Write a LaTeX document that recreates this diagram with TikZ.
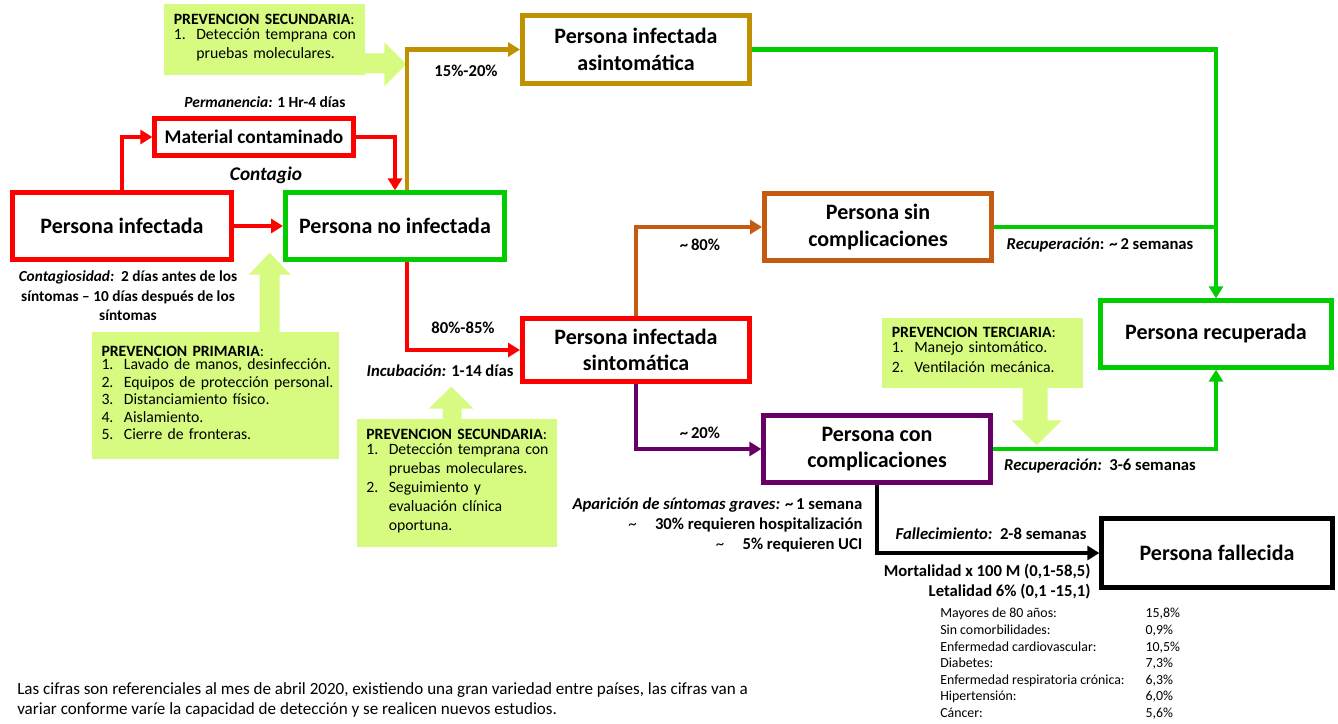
\documentclass[tikz,border=0pt]{standalone}
\usepackage{fontspec}
\setmainfont{Carlito}
\usetikzlibrary{arrows.meta,shadows}

\definecolor{cred}{RGB}{255,0,0}
\definecolor{cgreen}{RGB}{0,204,0}
\definecolor{cgold}{RGB}{191,144,0}
\definecolor{corange}{RGB}{197,90,17}
\definecolor{cpurple}{RGB}{102,0,102}
\definecolor{cprev}{RGB}{214,251,128}

\newcommand{\encab}[1]{\mbox{\textbf{#1}:}}

\tikzset{
  estado/.style={draw, line width=3.5pt, fill=white, align=center, inner sep=2pt,
    font=\fontsize{16.5}{20}\selectfont\bfseries,
    drop shadow={shadow xshift=2pt, shadow yshift=-2pt, opacity=0.3}},
  flecha/.style={line width=3.5pt, -{Triangle[length=9pt,width=10.5pt]}},
  linea/.style={line width=3.5pt},
  prev/.style={fill=cprev, align=left, inner xsep=7pt, inner ysep=0pt},
  etiq/.style={inner sep=1pt, font=\fontsize{12.5}{15}\selectfont\bfseries},
}

\begin{document}
\begin{tikzpicture}[x=0.75pt, y=-0.75pt]
	\useasboundingbox (0,0) rectangle (1338,724);

	% prevencion
	\node[prev, minimum width=150.75pt, minimum height=53.25pt, text width=136pt,
		font=\fontsize{11.8}{14.5}\selectfont] (prevsecA) at (264.5,39.5)
		{\encab{PREVENCION SECUNDARIA}\\
		\begin{tabular}{@{}l@{\ \ }l@{}}
			1. & Detección temprana con\\
			   & pruebas moleculares.
		\end{tabular}};
	\fill[cprev] (prevsecA.south east) ++(-1,-2) -- ++(20,0) -- ++(0,13) -- ++(22,-22)
		-- ++(-22,-22) -- ++(0,11) -- ++(-20,0) -- cycle;

	\node[prev, minimum width=185.25pt, minimum height=95.25pt, text width=171pt,
		font=\fontsize{11.8}{13.1}\selectfont] (prevprim) at (215.5,395.5)
		{\encab{PREVENCION PRIMARIA}\\
		\begin{tabular}{@{}l@{\ \ }l@{}}
			1. & Lavado de manos, desinfección.\\
			2. & Equipos de protección personal.\\
			3. & Distanciamiento físico.\\
			4. & Aislamiento.\\
			5. & Cierre de fronteras.
		\end{tabular}};
	\fill[cprev] (prevprim.north west) ++(168,1) -- ++(0,-58) -- ++(-11,0) -- ++(21,-22)
		-- ++(21,22) -- ++(-11,0) -- ++(0,58) -- cycle;

	\node[prev, minimum width=150pt, minimum height=96pt, text width=136pt,
		font=\fontsize{11.8}{14.3}\selectfont] (prevsecB) at (457,483)
		{\encab{PREVENCION SECUNDARIA}\\
		\begin{tabular}{@{}l@{\ \ }l@{}}
			1. & Detección temprana con\\
			   & pruebas moleculares.\\
			2. & Seguimiento y\\
			   & evaluación clínica\\
			   & oportuna.
		\end{tabular}};
	\fill[cprev] (prevsecB.north west) ++(86,1) -- ++(0,-11) -- ++(-14,0) -- ++(22.5,-22)
		-- ++(22.5,22) -- ++(-12,0) -- ++(0,11) -- cycle;

	\node[prev, minimum width=150.75pt, minimum height=52.5pt, text width=136pt,
		font=\fontsize{11.8}{15}\selectfont] (prevter) at (982.5,353)
		{\encab{PREVENCION TERCIARIA}\\
		\begin{tabular}{@{}l@{\ \ }l@{}}
			1. & Manejo sintomático.\\
			2. & Ventilación mecánica.
		\end{tabular}};
	\fill[cprev] (prevter.south west) ++(141,-1) -- ++(0,33) -- ++(-11,0) -- ++(25,25)
		-- ++(25,-25) -- ++(-14,0) -- ++(0,-33) -- cycle;

	% estados
	\node[estado, draw=cred, minimum width=149pt, minimum height=28pt,
		font=\fontsize{14.5}{17}\selectfont\bfseries] (mat) at (254,137) {Material contaminado};
	\node[estado, draw=cred, minimum width=164.5pt, minimum height=50pt] (inf) at (122,226) {Persona infectada};
	\node[estado, draw=cgreen, minimum width=164.5pt, minimum height=50pt] (noinf) at (395,226) {Persona no infectada};
	\node[estado, draw=cgold, minimum width=170.5pt, minimum height=51pt] (asin) at (636,49.5) {Persona infectada\\asintomática};
	\node[estado, draw=corange, minimum width=170.5pt, minimum height=50pt] (sin) at (878,227) {Persona sin\\complicaciones};
	\node[estado, draw=cred, minimum width=170.5pt, minimum height=47pt] (sint) at (636,350) {Persona infectada\\sintomática};
	\node[estado, draw=cpurple, minimum width=170pt, minimum height=50pt] (con) at (877,449) {Persona con\\complicaciones};
	\node[estado, draw=cgreen, minimum width=173pt, minimum height=50pt] (rec) at (1216,334) {Persona recuperada};
	\node[estado, draw=black, minimum width=173pt, minimum height=52pt] (fal) at (1217,553) {Persona fallecida};

	% conexiones
	\draw[flecha, cred] (inf.north) |- (mat.west);
	\draw[flecha, cred] (mat.east) -| (noinf.north);
	\draw[flecha, cred] (inf.east) -- (noinf.west);
	\draw[flecha, cgold] ([xshift=9pt]noinf.north) |- (asin.west);
	\draw[flecha, cred] ([xshift=9pt]noinf.south) |- (sint.west);
	\draw[flecha, corange] (sint.north) |- (sin.west);
	\draw[flecha, cpurple] (sint.south) |- (con.west);
	\draw[flecha, black] (con.south) |- (fal.west);
	\draw[flecha, cgreen] (asin.east) -| (rec.north);
	\draw[linea, cgreen] (sin.east) -- (sin.east -| rec.north);
	\draw[flecha, cgreen] (con.east) -| (rec.south);

	% etiquetas
	\node[etiq, font=\fontsize{11.6}{12}\selectfont\bfseries] (perm) at (265,102) {\textit{Permanencia:} 1 Hr-4 días};
	\node[etiq, font=\fontsize{14.5}{15}\selectfont\bfseries\itshape] (contagio) at (266,175) {Contagio};
	\node[etiq, align=center, font=\fontsize{11.5}{14.6}\selectfont\bfseries] (contagios) at (128,296)
		{\textit{Contagiosidad:}\ \ 2 días antes de los\\síntomas -- 10 días después de los\\síntomas};
	\node[etiq] (pasin) at (466,71) {15\%-20\%};
	\node[etiq] (psint) at (463,328) {80\%-85\%};
	\node[etiq] (incub) at (440,371) {\textit{Incubación:} 1-14 días};
	\node[etiq] (psin) at (700,245) {\textasciitilde\,80\%};
	\node[etiq] (pcon) at (700,433) {\textasciitilde\,20\%};
	\node[etiq] (recsin) at (1100,245) {\textit{Recuperación}: \textasciitilde\,2 semanas};
	\node[etiq] (reccon) at (1100,466) {\textit{Recuperación:}\ \ 3-6 semanas};
	\node[etiq, anchor=east, align=right] (graves) at (864,525)
		{\textit{Aparición de síntomas graves:} \textasciitilde\,1 semana\\
		{\mdseries\textasciitilde}\hspace{1.1em}30\% requieren hospitalización\\
		{\mdseries\textasciitilde}\hspace{1.1em}5\% requieren UCI};
	\node[etiq] (fallec) at (991,534) {\textit{Fallecimiento:}\ \ 2-8 semanas};
	\node[etiq, anchor=east, align=right] (mortal) at (1092,582)
		{Mortalidad x 100 M (0,1-58,5)\\Letalidad 6\% (0,1 -15,1)};
	\node[anchor=north west, inner sep=0pt, font=\fontsize{10.4}{12.45}\selectfont] (tabla) at (940,606)
		{\begin{tabular}{@{}p{154pt}@{}l@{}}
			Mayores de 80 años: & 15,8\%\\
			Sin comorbilidades: & 0,9\%\\
			Enfermedad cardiovascular: & 10,5\%\\
			Diabetes: & 7,3\%\\
			Enfermedad respiratoria crónica: & 6,3\%\\
			Hipertensión: & 6,0\%\\
			Cáncer: & 5,6\%
		\end{tabular}};
	\node[anchor=west, align=left, inner sep=0pt, font=\fontsize{12.8}{15}\selectfont] (nota) at (17,700)
		{Las cifras son referenciales al mes de abril 2020, existiendo una gran variedad entre países, las cifras van a\\
		variar conforme varíe la capacidad de detección y se realicen nuevos estudios.};
\end{tikzpicture}
\end{document}
